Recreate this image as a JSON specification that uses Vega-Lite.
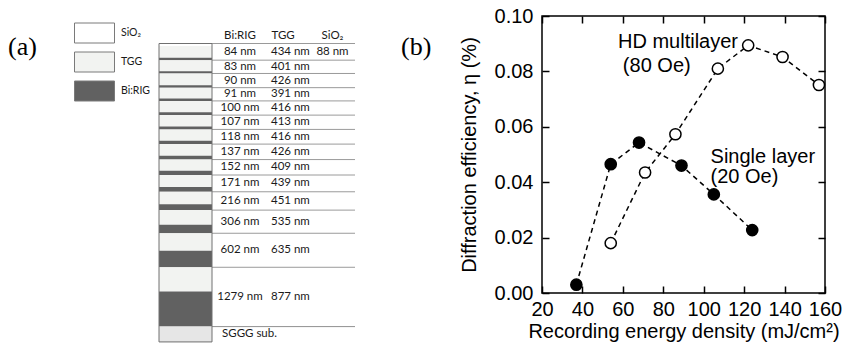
{
  "$schema": "https://vega.github.io/schema/vega-lite/v6.json",
  "padding": {"left": 0, "top": 5, "right": 0, "bottom": 0},
  "bounds": "flush",
  "spacing": 142,
  "config": {
    "view": {"stroke": null},
    "text": {"font": "Lato", "fontSize": 11.5, "color": "#1a1a1a"}
  },
  "datasets": {
    "layers": [
      {"layer": 1, "row": 1, "material": "SiO₂", "nm": 88},
      {"layer": 2, "row": 1, "material": "TGG", "nm": 434},
      {"layer": 3, "row": 1, "material": "Bi:RIG", "nm": 84},
      {"layer": 4, "row": 2, "material": "TGG", "nm": 401},
      {"layer": 5, "row": 2, "material": "Bi:RIG", "nm": 83},
      {"layer": 6, "row": 3, "material": "TGG", "nm": 426},
      {"layer": 7, "row": 3, "material": "Bi:RIG", "nm": 90},
      {"layer": 8, "row": 4, "material": "TGG", "nm": 391},
      {"layer": 9, "row": 4, "material": "Bi:RIG", "nm": 91},
      {"layer": 10, "row": 5, "material": "TGG", "nm": 416},
      {"layer": 11, "row": 5, "material": "Bi:RIG", "nm": 100},
      {"layer": 12, "row": 6, "material": "TGG", "nm": 413},
      {"layer": 13, "row": 6, "material": "Bi:RIG", "nm": 107},
      {"layer": 14, "row": 7, "material": "TGG", "nm": 416},
      {"layer": 15, "row": 7, "material": "Bi:RIG", "nm": 118},
      {"layer": 16, "row": 8, "material": "TGG", "nm": 426},
      {"layer": 17, "row": 8, "material": "Bi:RIG", "nm": 137},
      {"layer": 18, "row": 9, "material": "TGG", "nm": 409},
      {"layer": 19, "row": 9, "material": "Bi:RIG", "nm": 152},
      {"layer": 20, "row": 10, "material": "TGG", "nm": 439},
      {"layer": 21, "row": 10, "material": "Bi:RIG", "nm": 171},
      {"layer": 22, "row": 11, "material": "TGG", "nm": 451},
      {"layer": 23, "row": 11, "material": "Bi:RIG", "nm": 216},
      {"layer": 24, "row": 12, "material": "TGG", "nm": 535},
      {"layer": 25, "row": 12, "material": "Bi:RIG", "nm": 306},
      {"layer": 26, "row": 13, "material": "TGG", "nm": 635},
      {"layer": 27, "row": 13, "material": "Bi:RIG", "nm": 602},
      {"layer": 28, "row": 14, "material": "TGG", "nm": 877},
      {"layer": 29, "row": 14, "material": "Bi:RIG", "nm": 1279}
    ],
    "efficiency": [
      {"sample": "Single layer", "energy": 37, "eta": 0.003},
      {"sample": "Single layer", "energy": 54, "eta": 0.0465},
      {"sample": "Single layer", "energy": 68, "eta": 0.0543},
      {"sample": "Single layer", "energy": 89, "eta": 0.046},
      {"sample": "Single layer", "energy": 105, "eta": 0.0356},
      {"sample": "Single layer", "energy": 124, "eta": 0.0227},
      {"sample": "HD multilayer", "energy": 54, "eta": 0.018},
      {"sample": "HD multilayer", "energy": 71, "eta": 0.0435},
      {"sample": "HD multilayer", "energy": 86, "eta": 0.0573},
      {"sample": "HD multilayer", "energy": 107, "eta": 0.081},
      {"sample": "HD multilayer", "energy": 122, "eta": 0.0894},
      {"sample": "HD multilayer", "energy": 139, "eta": 0.0852},
      {"sample": "HD multilayer", "energy": 157, "eta": 0.0751}
    ]
  },
  "hconcat": [
    {
      "width": 400,
      "height": 330,
      "data": {"name": "layers"},
      "transform": [
        {"stack": "nm", "groupby": [], "sort": [{"field": "layer", "order": "ascending"}], "as": ["top", "bottom"]},
        {"joinaggregate": [{"op": "min", "field": "top", "as": "rowTop"}, {"op": "max", "field": "bottom", "as": "rowBottom"}], "groupby": ["row"]},
        {"calculate": "(datum.rowTop + datum.rowBottom) / 2", "as": "rowMid"},
        {"calculate": "datum.nm + ' nm'", "as": "label"}
      ],
      "layer": [
        {
          "mark": {"type": "rect"},
          "encoding": {
            "x": {"datum": 159, "type": "quantitative", "scale": {"domain": [0, 400]}, "axis": null},
            "x2": {"datum": 212},
            "y": {"field": "top", "type": "quantitative", "scale": {"domain": [-201, 10852], "reverse": true}, "axis": null},
            "y2": {"field": "bottom"},
            "color": {
              "field": "material",
              "type": "nominal",
              "scale": {"domain": ["SiO₂", "TGG", "Bi:RIG"], "range": ["#ffffff", "#f2f3f1", "#616161"]},
              "legend": {
                "orient": "none",
                "legendX": 74,
                "legendY": 3.5,
                "title": null,
                "padding": 0,
                "symbolType": "M-1,-0.5H1V0.5H-1Z",
                "symbolSize": 1600,
                "symbolStrokeColor": "#7a7a7a",
                "symbolStrokeWidth": 1,
                "symbolOpacity": 1,
                "clipHeight": 27,
                "rowPadding": 2,
                "labelFont": "Lato",
                "labelFontSize": 10.5,
                "labelColor": "#1a1a1a",
                "labelOffset": 6,
                "encode": {"symbols": {"update": {"stroke": {"value": "#7a7a7a"}, "strokeWidth": {"value": 1}}}}
              }
            }
          }
        },
        {
          "transform": [{"aggregate": [{"op": "sum", "field": "nm", "as": "total"}]}],
          "mark": {"type": "rect", "color": "#e6e6e6"},
          "encoding": {
            "x": {"datum": 159, "type": "quantitative"},
            "x2": {"datum": 212},
            "y": {"field": "total", "type": "quantitative"},
            "y2": {"datum": 10852}
          }
        },
        {
          "transform": [{"aggregate": [{"op": "sum", "field": "nm", "as": "total"}]}],
          "mark": {"type": "rule", "color": "#9a9a9a", "strokeWidth": 1},
          "encoding": {
            "x": {"datum": 212, "type": "quantitative"},
            "x2": {"datum": 355},
            "y": {"field": "total", "type": "quantitative"}
          }
        },
        {
          "transform": [{"filter": "datum.material == 'Bi:RIG'"}],
          "mark": {"type": "rule", "color": "#9a9a9a", "strokeWidth": 1},
          "encoding": {
            "x": {"datum": 212, "type": "quantitative"},
            "x2": {"datum": 355},
            "y": {"field": "bottom", "type": "quantitative"}
          }
        },
        {
          "transform": [{"filter": "datum.layer == 1"}],
          "mark": {"type": "rule", "color": "#9a9a9a", "strokeWidth": 1},
          "encoding": {
            "x": {"datum": 159, "type": "quantitative"},
            "x2": {"datum": 355},
            "y": {"field": "top", "type": "quantitative"}
          }
        },
        {
          "transform": [{"filter": "datum.layer == 1"}],
          "mark": {"type": "rect", "filled": false, "stroke": "#707070", "strokeWidth": 1},
          "encoding": {
            "x": {"datum": 159, "type": "quantitative"},
            "x2": {"datum": 212},
            "y": {"field": "top", "type": "quantitative"},
            "y2": {"datum": 10852}
          }
        },
        {
          "transform": [{"filter": "datum.material == 'Bi:RIG'"}],
          "mark": {"type": "text", "align": "center", "baseline": "middle"},
          "encoding": {
            "x": {"datum": 240, "type": "quantitative"},
            "y": {"field": "rowMid", "type": "quantitative"},
            "text": {"field": "label"}
          }
        },
        {
          "transform": [{"filter": "datum.material == 'TGG'"}],
          "mark": {"type": "text", "align": "left", "baseline": "middle"},
          "encoding": {
            "x": {"datum": 271, "type": "quantitative"},
            "y": {"field": "rowMid", "type": "quantitative"},
            "text": {"field": "label"}
          }
        },
        {
          "transform": [{"filter": "datum.material == 'SiO₂'"}],
          "mark": {"type": "text", "align": "center", "baseline": "middle"},
          "encoding": {
            "x": {"datum": 332.5, "type": "quantitative"},
            "y": {"field": "rowMid", "type": "quantitative"},
            "text": {"field": "label"}
          }
        },
        {
          "transform": [{"filter": "datum.layer == 3"}],
          "mark": {"type": "text", "text": "Bi:RIG", "align": "center", "baseline": "middle"},
          "encoding": {
            "x": {"datum": 240, "type": "quantitative"},
            "y": {"datum": -285, "type": "quantitative"}
          }
        },
        {
          "transform": [{"filter": "datum.layer == 2"}],
          "mark": {"type": "text", "text": "TGG", "align": "left", "baseline": "middle"},
          "encoding": {
            "x": {"datum": 271.5, "type": "quantitative"},
            "y": {"datum": -285, "type": "quantitative"}
          }
        },
        {
          "transform": [{"filter": "datum.layer == 1"}],
          "mark": {"type": "text", "text": "SiO₂", "align": "center", "baseline": "middle"},
          "encoding": {
            "x": {"datum": 332.5, "type": "quantitative"},
            "y": {"datum": -285, "type": "quantitative"}
          }
        },
        {
          "transform": [
            {"aggregate": [{"op": "sum", "field": "nm", "as": "total"}]},
            {"calculate": "(datum.total + 10852) / 2", "as": "subMid"}
          ],
          "mark": {"type": "text", "text": "SGGG sub.", "align": "left", "baseline": "middle"},
          "encoding": {
            "x": {"datum": 222, "type": "quantitative"},
            "y": {"field": "subMid", "type": "quantitative"}
          }
        },
        {
          "transform": [{"filter": "datum.layer == 1"}],
          "mark": {"type": "text", "text": "(a)", "align": "left", "baseline": "middle", "font": "Liberation Serif", "fontSize": 26, "color": "#000"},
          "encoding": {
            "x": {"datum": 8, "type": "quantitative"},
            "y": {"datum": 134, "type": "quantitative"}
          }
        },
        {
          "transform": [{"filter": "datum.layer == 1"}],
          "mark": {"type": "text", "text": "(b)", "align": "left", "baseline": "middle", "font": "Liberation Serif", "fontSize": 26, "color": "#000"},
          "encoding": {
            "x": {"datum": 401, "type": "quantitative"},
            "y": {"datum": 134, "type": "quantitative"}
          }
        }
      ]
    },
    {
      "width": 283,
      "height": 277,
      "view": {"stroke": "#000", "strokeWidth": 1.5},
      "data": {"name": "efficiency"},
      "layer": [
        {
          "mark": {"type": "line", "color": "#000", "strokeWidth": 1.5, "strokeDash": [5, 4]},
          "encoding": {
            "x": {
              "field": "energy", "type": "quantitative",
              "scale": {"domain": [20, 160], "nice": false, "zero": false},
              "axis": {
                "orient": "bottom", "values": [20, 40, 60, 80, 100, 120, 140, 160],
                "title": "Recording energy density (mJ/cm²)",
                "grid": false, "domain": false,
                "tickSize": -7, "tickColor": "#000", "tickWidth": 1.5,
                "labelFont": "Liberation Sans", "labelFontSize": 20, "labelColor": "#000", "labelPadding": 13,
                "labelFlush": false,
                "titleFont": "Liberation Sans", "titleFontSize": 20, "titleFontWeight": "normal", "titleColor": "#000", "titlePadding": 2
              }
            },
            "y": {
              "field": "eta", "type": "quantitative",
              "scale": {"domain": [0, 0.1], "nice": false},
              "axis": {
                "orient": "left", "values": [0, 0.02, 0.04, 0.06, 0.08, 0.1], "format": ".2f",
                "title": "Diffraction efficiency, η (%)",
                "grid": false, "domain": false,
                "tickSize": -7, "tickColor": "#000", "tickWidth": 1.5,
                "labelFont": "Liberation Sans", "labelFontSize": 20, "labelColor": "#000", "labelPadding": 16,
                "labelFlush": false,
                "titleFont": "Liberation Sans", "titleFontSize": 20, "titleFontWeight": "normal", "titleColor": "#000", "titlePadding": 15
              }
            },
            "detail": {"field": "sample"},
            "order": {"field": "energy"}
          }
        },
        {
          "mark": {"type": "point", "shape": "circle", "filled": true, "size": 125, "stroke": "#000", "strokeWidth": 1.5, "opacity": 1},
          "encoding": {
            "x": {
              "field": "energy", "type": "quantitative",
              "axis": {"orient": "top", "values": [20, 40, 60, 80, 100, 120, 140, 160], "labels": false, "title": null, "grid": false, "domain": false, "tickSize": -7, "tickColor": "#000", "tickWidth": 1.5}
            },
            "y": {
              "field": "eta", "type": "quantitative",
              "axis": {"orient": "right", "values": [0, 0.02, 0.04, 0.06, 0.08, 0.1], "labels": false, "title": null, "grid": false, "domain": false, "tickSize": -7, "tickColor": "#000", "tickWidth": 1.5}
            },
            "fill": {"field": "sample", "type": "nominal", "scale": {"domain": ["HD multilayer", "Single layer"], "range": ["#ffffff", "#000000"]}, "legend": null}
          }
        },
        {
          "transform": [{"filter": "datum.sample == 'HD multilayer' && datum.energy == 54"}],
          "mark": {"type": "text", "text": "HD multilayer", "align": "left", "baseline": "alphabetic", "font": "Liberation Sans", "fontSize": 20, "color": "#000"},
          "encoding": {
            "x": {"datum": 57.6, "type": "quantitative", "axis": null},
            "y": {"datum": 0.0886, "type": "quantitative", "axis": null}
          }
        },
        {
          "transform": [{"filter": "datum.sample == 'HD multilayer' && datum.energy == 54"}],
          "mark": {"type": "text", "text": "(80 Oe)", "align": "left", "baseline": "alphabetic", "font": "Liberation Sans", "fontSize": 20, "color": "#000"},
          "encoding": {
            "x": {"datum": 60, "type": "quantitative", "axis": null},
            "y": {"datum": 0.0798, "type": "quantitative", "axis": null}
          }
        },
        {
          "transform": [{"filter": "datum.sample == 'Single layer' && datum.energy == 37"}],
          "mark": {"type": "text", "text": "Single layer", "align": "left", "baseline": "alphabetic", "font": "Liberation Sans", "fontSize": 20, "color": "#000"},
          "encoding": {
            "x": {"datum": 103.4, "type": "quantitative", "axis": null},
            "y": {"datum": 0.047, "type": "quantitative", "axis": null}
          }
        },
        {
          "transform": [{"filter": "datum.sample == 'Single layer' && datum.energy == 37"}],
          "mark": {"type": "text", "text": "(20 Oe)", "align": "left", "baseline": "alphabetic", "font": "Liberation Sans", "fontSize": 20, "color": "#000"},
          "encoding": {
            "x": {"datum": 103.4, "type": "quantitative", "axis": null},
            "y": {"datum": 0.0398, "type": "quantitative", "axis": null}
          }
        }
      ],
      "resolve": {"axis": {"x": "independent", "y": "independent"}}
    }
  ]
}
